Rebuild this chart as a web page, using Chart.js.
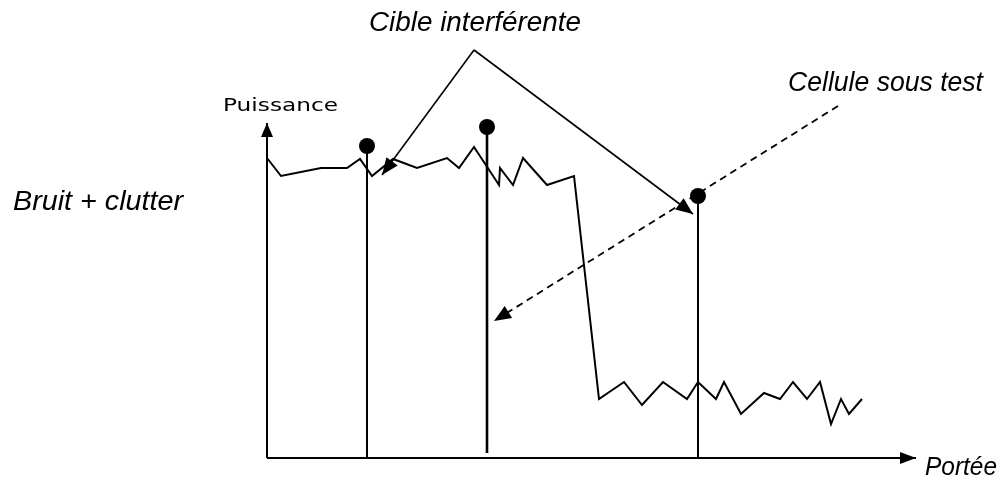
<!DOCTYPE html>
<html>
<head>
<meta charset="utf-8">
<script src="https://cdn.jsdelivr.net/npm/chart.js@4.4.0/dist/chart.umd.min.js"></script>
<style>
	html, body { margin: 0; padding: 0; background: #fff; }
	#wrap { width: 1003px; height: 480px; position: relative; }
</style>
</head>
<body>
<div id="wrap"><canvas id="cfar"></canvas></div>
<script>
// Clutter profile (range, power)
const noiseRange = [0, 14, 54, 80, 93, 105, 126, 150, 180, 192, 207, 232, 233, 246, 256, 280, 307,
	332, 357, 375, 396, 420, 431, 449, 457, 474, 497, 513, 526, 540, 553, 564, 574, 582, 595];
const noisePower = [300, 282, 290, 290, 299, 282, 299, 290, 300, 290, 311, 273, 290, 273, 300, 273, 282,
	59, 76, 53, 76, 59, 76, 59, 76, 44, 65, 59, 76, 59, 76, 34, 59, 44, 59];

// Targets: position, peak and foot of each stem
const targetRange = [100, 220, 431];
const targetPower = [312, 331, 262];
const targetBase = [0, 5, 0];
const targetWidth = [2, 2.6, 2];

// Axis extents
const rangeMax = 649;
const powerMax = 335;

// Annotation arrows [range, power]
const cibleFrom = [207, 408];
const cibleTo = [[115, 283], [426, 244]];
const testFrom = [571, 352];
const testTo = [227, 137];

(() => {
	'use strict'

	const pt = (a) => ({ x: a[0], y: a[1] });

	const datasets = [];

	// Axes
	datasets.push({ data: [{ x: 0, y: 0 }, { x: 0, y: powerMax }], borderWidth: 2, arrow: [14, 12] });
	datasets.push({ data: [{ x: 0, y: 0 }, { x: rangeMax, y: 0 }], borderWidth: 2, arrow: [16, 12] });

	// Noise + clutter
	datasets.push({
		data: noiseRange.map((r, i) => ({ x: r, y: noisePower[i] })),
		borderWidth: 2
	});

	// Target stems with dots
	targetRange.forEach((r, i) => {
		datasets.push({
			data: [{ x: r, y: targetBase[i] }, { x: r, y: targetPower[i] }],
			borderWidth: targetWidth[i],
			pointRadius: [0, 8]
		});
	});

	// Annotation arrows
	cibleTo.forEach((to) => {
		datasets.push({ data: [pt(cibleFrom), pt(to)], borderWidth: 1.6, arrow: [17, 14] });
	});
	datasets.push({ data: [pt(testFrom), pt(testTo)], borderWidth: 1.8, borderDash: [7, 5], arrow: [17, 14] });

	datasets.forEach((d) => {
		d.showLine = true;
		d.borderColor = '#000';
		d.backgroundColor = '#000';
		d.pointBackgroundColor = '#000';
		d.pointBorderWidth = 0;
		if (d.pointRadius === undefined) d.pointRadius = 0;
		d.tension = 0;
	});

	// Filled arrowheads at the last point of flagged datasets
	const arrowHeads = {
		id: 'arrowHeads',
		afterDatasetsDraw(chart) {
			const ctx = chart.ctx;
			chart.data.datasets.forEach((d, i) => {
				if (!d.arrow) return;
				const pts = chart.getDatasetMeta(i).data;
				const a = pts[pts.length - 2], b = pts[pts.length - 1];
				const ang = Math.atan2(b.y - a.y, b.x - a.x);
				const len = d.arrow[0], half = d.arrow[1] / 2;
				ctx.save();
				ctx.translate(b.x, b.y);
				ctx.rotate(ang);
				ctx.beginPath();
				ctx.moveTo(0, 0);
				ctx.lineTo(-len, -half);
				ctx.lineTo(-len, half);
				ctx.closePath();
				ctx.fillStyle = '#000';
				ctx.fill();
				ctx.restore();
			});
		}
	};

	// Text labels, stretched to the width seen in the picture
	const labels = [
		{ text: 'Cible interférente', x: 369, y: 31, size: 27, italic: true, w: 212, font: '"Liberation Sans"' },
		{ text: 'Cellule sous test', x: 788, y: 91, size: 27, italic: true, w: 195, font: '"Liberation Sans"' },
		{ text: 'Bruit + clutter', x: 13, y: 210, size: 27, italic: true, w: 170, font: '"Liberation Sans"' },
		{ text: 'Portée', x: 925, y: 475, size: 25, italic: true, w: 72, font: '"Liberation Sans"' },
		{ text: 'Puissance', x: 223, y: 111, size: 18, italic: false, w: 115, font: '"DejaVu Sans"' }
	];
	const textLabels = {
		id: 'textLabels',
		afterDraw(chart) {
			const ctx = chart.ctx;
			labels.forEach((l) => {
				ctx.save();
				ctx.font = (l.italic ? 'italic ' : '') + l.size + 'px ' + l.font + ', Arial, sans-serif';
				ctx.fillStyle = '#000';
				ctx.textBaseline = 'alphabetic';
				const w = ctx.measureText(l.text).width;
				ctx.translate(l.x, l.y);
				ctx.scale(l.w / w, 1);
				ctx.fillText(l.text, 0, 0);
				ctx.restore();
			});
		}
	};

	const config = {
		type: 'scatter',
		data: { datasets: datasets },
		options: {
			responsive: true,
			maintainAspectRatio: false,
			animation: false,
			layout: { padding: 0, autoPadding: false },
			plugins: {
				legend: { display: false },
				tooltip: { enabled: false },
				title: { display: false }
			},
			scales: {
				x: { type: 'linear', display: false, min: -267, max: 736 },
				y: { type: 'linear', display: false, min: -22, max: 458 }
			}
		},
		plugins: [arrowHeads, textLabels]
	};

	new Chart(document.getElementById('cfar'), config);
})()
</script>
</body>
</html>
